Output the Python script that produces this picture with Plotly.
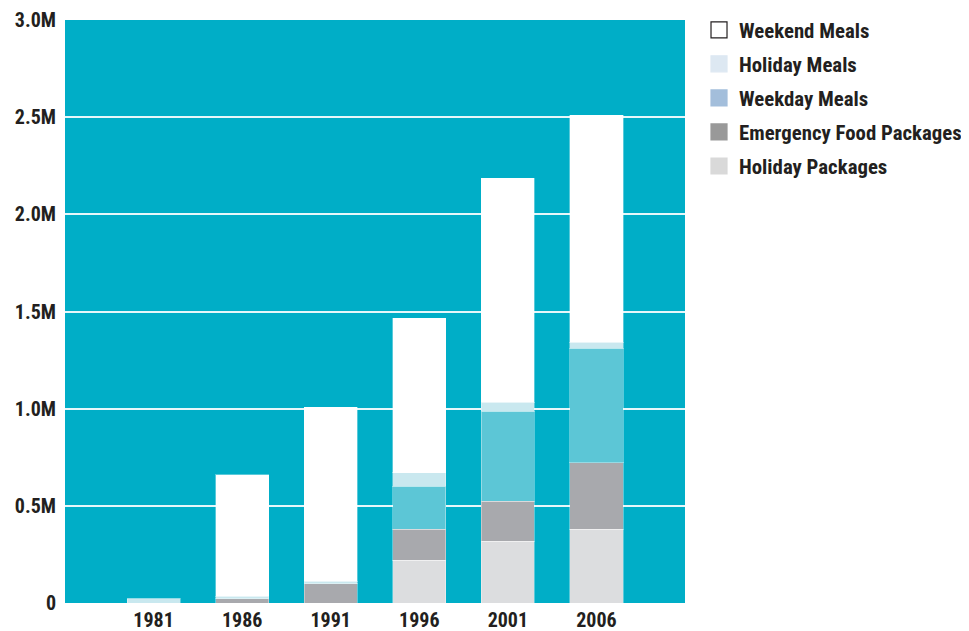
import plotly.graph_objects as go

years = ["1981", "1986", "1991", "1996", "2001", "2006"]
holiday_packages = [0, 0, 0, 220000, 317000, 379000]
emergency_packages = [0, 22000, 99000, 159000, 207000, 343000]
weekday_meals = [0, 0, 0, 221000, 463000, 590000]
holiday_meals = [22000, 14000, 14000, 69000, 46000, 31000]
weekend_meals = [0, 624000, 894000, 797000, 1152000, 1168000]

series_names = ["Holiday Packages", "Emergency Food Packages", "Weekday Meals",
                "Holiday Meals", "Weekend Meals"]
series_values = [holiday_packages, emergency_packages, weekday_meals,
                 holiday_meals, weekend_meals]
bar_colors = ["#dcdddf", "#a8a9ad", "#5cc6d6", "#c9e8ef", "#ffffff"]
legend_colors = ["#d9d9d9", "#999999", "#a3bedb", "#dde8f2", "#ffffff"]

y_tickvals = [0, 500000, 1000000, 1500000, 2000000, 2500000, 3000000]
y_ticktext = ["0", "0.5M", "1.0M", "1.5M", "2.0M", "2.5M", "3.0M"]

FONT = "Roboto Condensed, Open Sans Condensed, DejaVu Sans Condensed, sans-serif"
TEXT = "#231f20"

fig = go.Figure()
for name, vals, col in zip(series_names, series_values, bar_colors):
    fig.add_trace(go.Bar(
        x=years, y=vals, name=name, marker_color=col,
        marker_line=dict(color="rgba(255,255,255,0.35)", width=1),
        width=0.6, showlegend=False,
    ))

# legend entries (top to bottom)
for i in range(len(series_names) - 1, -1, -1):
    fig.add_trace(go.Scatter(
        x=[None], y=[None], mode="markers", name=series_names[i],
        legendgroup=series_names[i],
        marker=dict(symbol="square", size=16, color=legend_colors[i],
                    line=dict(color=TEXT if i == 4 else legend_colors[i], width=1.2)),
    ))

fig.update_layout(
    barmode="stack",
    width=961, height=623,
    margin=dict(l=57, r=284, t=12, b=28, autoexpand=False),
    paper_bgcolor="white",
    plot_bgcolor="#00aec7",
    font=dict(family=FONT, color=TEXT, size=18),
    legend=dict(x=1.0226, xanchor="left", y=1.0175, yanchor="top",
                font=dict(family=FONT, size=20.8, color=TEXT, weight="bold"),
                tracegroupgap=4, itemsizing="trace", bgcolor="rgba(0,0,0,0)"),
)
fig.update_xaxes(
    type="category", range=[-1, 6], showgrid=False, zeroline=False, automargin=False,
    showline=False, ticks="", ticklabelstandoff=3, ticklabeloverflow="allow",
    tickfont=dict(family=FONT, size=20, color=TEXT, weight="bold"),
)
fig.update_yaxes(
    range=[0, 3000000], tickvals=y_tickvals, ticktext=y_ticktext, automargin=False,
    showgrid=True, gridcolor="rgba(255,255,255,0.9)", gridwidth=1.5,
    zeroline=False, showline=False, ticks="", ticklabelstandoff=8,
    ticklabeloverflow="allow",
    tickfont=dict(family=FONT, size=20, color=TEXT, weight="bold"),
)

fig.write_html("out.html")
